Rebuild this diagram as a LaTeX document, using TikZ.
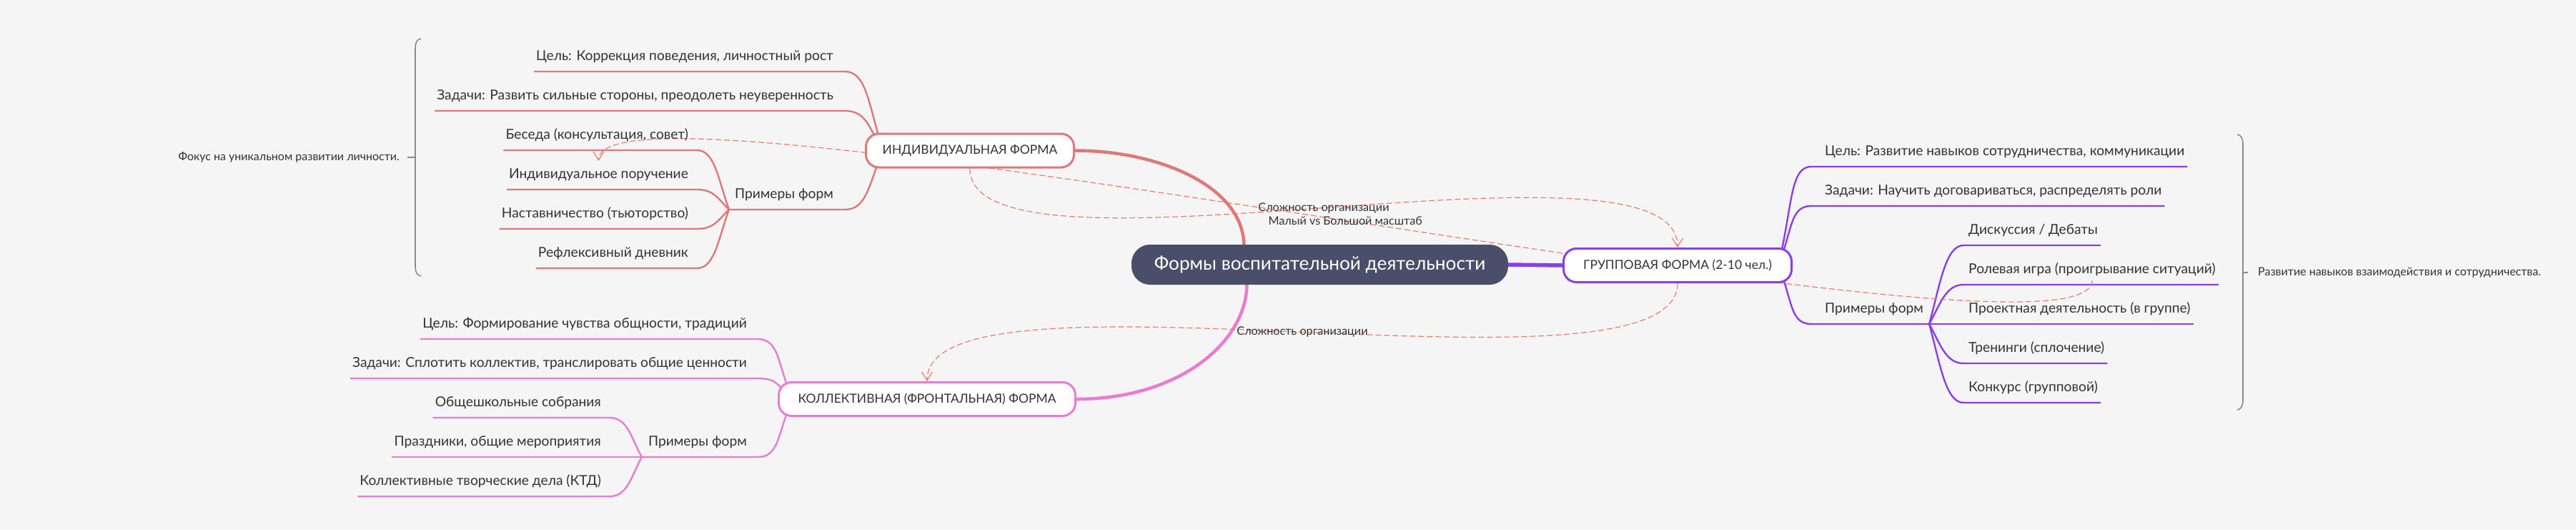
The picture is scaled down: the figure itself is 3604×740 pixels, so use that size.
\documentclass[tikz,border=0pt]{standalone}
\usepackage{fontspec}
\setmainfont{Lato}
\usetikzlibrary{arrows.meta,calc}
\definecolor{bgc}{HTML}{F5F5F5}
\definecolor{centralc}{HTML}{4B4E69}
\definecolor{cred}{HTML}{E07878}
\definecolor{cpur}{HTML}{8B3FE8}
\definecolor{cpink}{HTML}{EA7AD2}
\definecolor{crel}{HTML}{F07A6A}
\definecolor{txt}{HTML}{333333}
\definecolor{brk}{HTML}{8A8A8A}
\pgfdeclarelayer{back}
\pgfdeclarelayer{conn}
\pgfsetlayers{back,conn,main}
\begin{document}
\begin{tikzpicture}[x=1pt,y=-1pt,
  centralbox/.style={fill=centralc,text=white,rounded corners=26pt,minimum width=527pt,minimum height=56pt,inner sep=0pt,font=\fontsize{26.2}{31}\selectfont},
  topic/.style={fill=white,line width=3pt,rounded corners=18pt,minimum height=47pt,inner sep=0pt,text=txt,font=\fontsize{17.5}{21}\selectfont},
  leaf/.style={inner xsep=0pt,inner ysep=10pt,text depth=5pt,text height=14pt,text=txt,font=\fontsize{19.2}{23}\selectfont},
  note/.style={inner sep=0pt,text=txt,font=\fontsize{16}{19}\selectfont},
  rlabel/.style={inner sep=0pt,text=txt,font=\fontsize{16.2}{19}\selectfont},
  redl/.style={draw=cred,line width=2.4pt},
  purl/.style={draw=cpur,line width=2.4pt},
  pinkl/.style={draw=cpink,line width=2.4pt},
  rel/.style={draw=crel,line width=1.2pt,dash pattern=on 8pt off 4pt},
  relarrow/.style={-{Straight Barb[length=12pt,width=15pt,line width=1.2pt]}},
  brkl/.style={draw=brk,line width=1.6pt}]
\begin{pgfonlayer}{back}
\fill[bgc] (0,0) rectangle (3604,740);
\end{pgfonlayer}
\useasboundingbox (0,0) rectangle (3604,740);

% main nodes
\node[centralbox] (root) at (1846.5,370) {Формы воспитательной деятельности};
\node[topic,draw=cred,minimum width=291pt] (ind) at (1357,210.5) {ИНДИВИДУАЛЬНАЯ ФОРМА};
\node[topic,draw=cpur,minimum width=319pt] (grp) at (2347,371) {ГРУППОВАЯ ФОРМА (2-10 чел.)};
\node[topic,draw=cpink,minimum width=415pt] (kol) at (1297,558) {КОЛЛЕКТИВНАЯ (ФРОНТАЛЬНАЯ) ФОРМА};

% individual branch
\node[leaf,anchor=south east] (i1) at (1166,100) {Цель: Коррекция поведения, личностный рост};
\node[leaf,anchor=south east] (i2) at (1166,155) {Задачи: Развить сильные стороны, преодолеть неуверенность};
\node[leaf,anchor=south east] (i3) at (1166,293) {Примеры форм};
\node[leaf,anchor=south east] (i31) at (963,210) {Беседа (консультация, совет)};
\node[leaf,anchor=south east] (i32) at (963,265) {Индивидуальное поручение};
\node[leaf,anchor=south east] (i33) at (963,320) {Наставничество (тьюторство)};
\node[leaf,anchor=south east] (i34) at (963,375) {Рефлексивный дневник};

% group branch
\node[leaf,anchor=south west] (g1) at (2553,233) {Цель: Развитие навыков сотрудничества, коммуникации};
\node[leaf,anchor=south west] (g2) at (2553,288) {Задачи: Научить договариваться, распределять роли};
\node[leaf,anchor=south west] (g3) at (2553,453) {Примеры форм};
\node[leaf,anchor=south west] (g31) at (2754,343) {Дискуссия / Дебаты};
\node[leaf,anchor=south west] (g32) at (2754,398) {Ролевая игра (проигрывание ситуаций)};
\node[leaf,anchor=south west] (g33) at (2754,453) {Проектная деятельность (в группе)};
\node[leaf,anchor=south west] (g34) at (2754,508) {Тренинги (сплочение)};
\node[leaf,anchor=south west] (g35) at (2754,563) {Конкурс (групповой)};

% collective branch
\node[leaf,anchor=south east] (k1) at (1045,474) {Цель: Формирование чувства общности, традиций};
\node[leaf,anchor=south east] (k2) at (1045,529) {Задачи: Сплотить коллектив, транслировать общие ценности};
\node[leaf,anchor=south east] (k3) at (1045,639) {Примеры форм};
\node[leaf,anchor=south east] (k31) at (841,584) {Общешкольные собрания};
\node[leaf,anchor=south east] (k32) at (841,639) {Праздники, общие мероприятия};
\node[leaf,anchor=south east] (k33) at (841,694) {Коллективные творческие дела (КТД)};

% summaries
\node[note,anchor=east] (n1) at (559,220) {Фокус на уникальном развитии личности.};
\node[note,anchor=west] (n2) at (3159,381) {Развитие навыков взаимодействия и сотрудничества.};
\coordinate (b1) at (581,220);
\coordinate (b2) at (3138,381);

\begin{pgfonlayer}{conn}
% central connectors
\draw[cred,line width=4.5pt] (ind.east) .. controls +(116,0) and +(0,-85) .. ($(root.north)+(-106,3)$);
\draw[cpur,line width=5.5pt] (root.east) -- (grp.west);
\draw[cpink,line width=4.5pt] ($(root.south)+(-102,-2)$) .. controls +(0,82) and +(144,0) .. (kol.east);

% individual connectors
\coordinate (ip) at ($(ind.west)+(25,0)$);
\coordinate (ij) at ($(i3.south west)+(-8,0)$);
\draw[redl] ($(i1.south west)+(-3,0)$) -- ($(i1.south east)+(16,0)$) .. controls +(30,0) and +(-20,-66) .. (ip);
\draw[redl] ($(i2.south west)+(-3,0)$) -- ($(i2.south east)+(16,0)$) .. controls +(30,0) and +(-20,-33) .. (ip);
\draw[redl] (ij) -- ($(i3.south east)+(16,0)$) .. controls +(30,0) and +(-20,50) .. (ip);
\draw[redl] ($(i31.south west)+(-3,0)$) -- ($(i31.south east)+(12,0)$) .. controls +(25,0) and +(-15,-42) .. (ij);
\draw[redl] ($(i32.south west)+(-3,0)$) -- ($(i32.south east)+(12,0)$) .. controls +(25,0) and +(-15,-14) .. (ij);
\draw[redl] ($(i33.south west)+(-3,0)$) -- ($(i33.south east)+(12,0)$) .. controls +(25,0) and +(-15,14) .. (ij);
\draw[redl] ($(i34.south west)+(-3,0)$) -- ($(i34.south east)+(12,0)$) .. controls +(25,0) and +(-15,41) .. (ij);

% group connectors
\coordinate (gp) at ($(grp.east)+(-20,0)$);
\coordinate (gj) at ($(g3.south east)+(8,0)$);
\draw[purl] (gp) .. controls +(20,-83) and +(-30,0) .. ($(g1.south west)+(-19,0)$) -- ($(g1.south east)+(4,0)$);
\draw[purl] (gp) .. controls +(20,-50) and +(-30,0) .. ($(g2.south west)+(-19,0)$) -- ($(g2.south east)+(4,0)$);
\draw[purl] (gp) .. controls +(20,49) and +(-30,0) .. ($(g3.south west)+(-19,0)$) -- (gj);
\draw[purl] (gj) .. controls +(15,-55) and +(-25,0) .. ($(g31.south west)+(-7,0)$) -- ($(g31.south east)+(4,0)$);
\draw[purl] (gj) .. controls +(15,-27) and +(-25,0) .. ($(g32.south west)+(-7,0)$) -- ($(g32.south east)+(4,0)$);
\draw[purl] (gj) -- ($(g33.south west)+(-7,0)$) -- ($(g33.south east)+(4,0)$);
\draw[purl] (gj) .. controls +(15,27) and +(-25,0) .. ($(g34.south west)+(-7,0)$) -- ($(g34.south east)+(4,0)$);
\draw[purl] (gj) .. controls +(15,55) and +(-25,0) .. ($(g35.south west)+(-7,0)$) -- ($(g35.south east)+(4,0)$);

% collective connectors
\coordinate (kp) at ($(kol.west)+(20,0)$);
\coordinate (kj) at ($(k3.south west)+(-9,0)$);
\draw[pinkl] ($(k1.south west)+(-3,0)$) -- ($(k1.south east)+(15,0)$) .. controls +(30,0) and +(-20,-50) .. (kp);
\draw[pinkl] ($(k2.south west)+(-3,0)$) -- ($(k2.south east)+(15,0)$) .. controls +(30,0) and +(-20,-17) .. (kp);
\draw[pinkl] (kj) -- ($(k3.south east)+(15,0)$) .. controls +(30,0) and +(-20,49) .. (kp);
\draw[pinkl] ($(k31.south west)+(-3,0)$) -- ($(k31.south east)+(12,0)$) .. controls +(25,0) and +(-15,-27) .. (kj);
\draw[pinkl] ($(k32.south west)+(-3,0)$) -- (kj);
\draw[pinkl] ($(k33.south west)+(-3,0)$) -- ($(k33.south east)+(12,0)$) .. controls +(25,0) and +(-15,27) .. (kj);

% summary brackets
\draw[brkl] (589,54) .. controls (583,55) and (581,60) .. (581,68) -- (581,372) .. controls (581,380) and (583,385) .. (589,386);
\draw[brkl] (b1) -- (n1.east -| 570,0);
\draw[brkl] (3130,188) .. controls (3136,189) and (3138,194) .. (3138,202) -- (3138,559) .. controls (3138,567) and (3136,572) .. (3130,573);
\draw[brkl] (b2) -- (n2.west -| 3145,0);

% relationships
\draw[rel,relarrow] (ind.south) .. controls +(0,180) and +(0,-180) .. (grp.north) node[pos=0.5,rlabel] {Сложность организации};
\draw[rel,relarrow] ($(g32.south)+(0,-6)$) .. controls +(0,150) and +(0,-150) .. ($(i32.south)+(0,-40)$) node[pos=0.5,rlabel] {Малый vs Большой масштаб};
\draw[rel,relarrow] (grp.south) .. controls +(0,180) and +(0,-180) .. (kol.north) node[pos=0.5,rlabel] {Сложность организации};
\end{pgfonlayer}
\end{tikzpicture}
\end{document}
